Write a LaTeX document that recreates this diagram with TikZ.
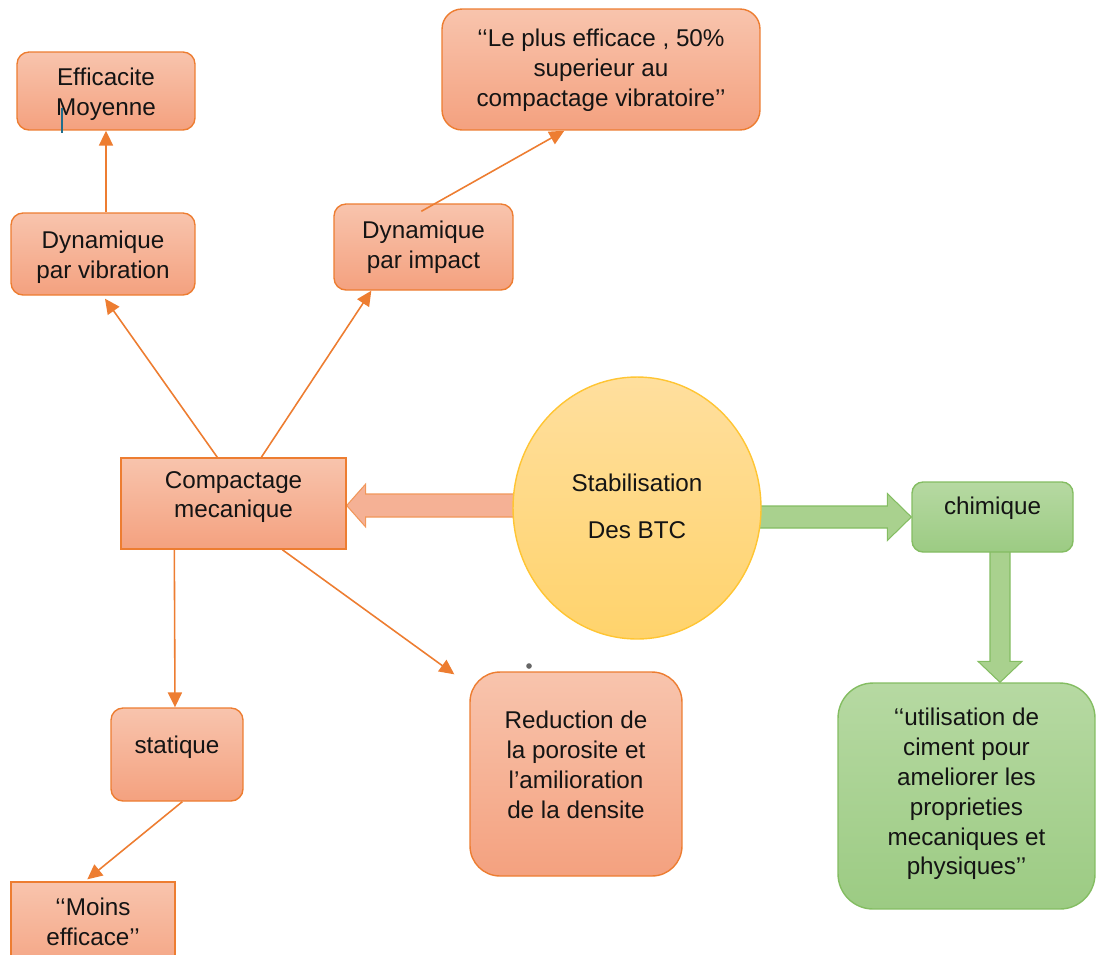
\documentclass[tikz,border=0pt]{standalone}
\usepackage{fontspec}
\setmainfont{Liberation Sans}
\usetikzlibrary{arrows.meta,calc,shapes.geometric,backgrounds}
\definecolor{obord}{HTML}{ED7D31}
\definecolor{otop}{HTML}{F8C4AD}
\definecolor{obot}{HTML}{F4A17F}
\definecolor{oblk}{HTML}{F5B195}
\definecolor{gbord}{HTML}{84BD62}
\definecolor{gtop}{HTML}{B6D9A2}
\definecolor{gbot}{HTML}{9CCB83}
\definecolor{gblk}{HTML}{A9D18E}
\definecolor{ytop}{HTML}{FFDF9E}
\definecolor{ybot}{HTML}{FFD36C}
\definecolor{ybord}{HTML}{FFC533}
\definecolor{txt}{HTML}{141414}
\definecolor{cursor}{HTML}{1F6E8C}
\begin{document}
\begin{tikzpicture}[x=0.02cm,y=-0.02cm,
 obox/.style={draw=obord, line width=0.8pt, top color=otop, bottom color=obot, inner sep=0pt},
 gbox/.style={draw=gbord, line width=0.8pt, top color=gtop, bottom color=gbot, inner sep=0pt},
 lbl/.style={font=\fontsize{13.8}{17}\selectfont, text=txt, align=center, inner sep=0pt},
 conn/.style={draw=obord, line width=0.9pt, -{Triangle[length=8.5pt,width=8pt]}},
 oblock/.style={draw=obord!80, line width=0.6pt, fill=oblk},
 gblock/.style={draw=gbord, line width=0.6pt, fill=gblk}]

\useasboundingbox (0,0) rectangle (1097,954);

% boxes
\node[obox, rounded corners=0.24cm, minimum width=3.56cm, minimum height=1.56cm] (eff) at (106,91) {};
\node[lbl] (efft) at (106,94) {Efficacite\\Moyenne};

\node[obox, rounded corners=0.24cm, minimum width=3.68cm, minimum height=1.64cm] (vib) at (103,254) {};
\node[lbl] (vibt) at (103,257) {Dynamique\\par vibration};

\node[obox, rounded corners=0.24cm, minimum width=3.58cm, minimum height=1.72cm] (imp) at (423.5,247) {};
\node[lbl] (impt) at (423.5,247) {Dynamique\\par impact};

\node[obox, rounded corners=0.4cm, minimum width=6.36cm, minimum height=2.42cm] (plus) at (601,69.5) {};
\node[lbl] (plust) at (601,70) {‘‘Le plus efficace , 50\%\\superieur au\\compactage vibratoire’’};

\node[obox, minimum width=4.5cm, minimum height=1.82cm] (comp) at (233.5,503.5) {};
\node[lbl] (compt) at (233.5,497) {Compactage\\mecanique};

\node[ellipse, draw=ybord, line width=0.8pt, top color=ytop, bottom color=ybot, minimum width=4.96cm, minimum height=5.24cm, inner sep=0pt] (circ) at (637,508) {};
\node[lbl] (circt) at (637,506) {Stabilisation\\[9.6pt]Des BTC};

\node[gbox, rounded corners=0.22cm, minimum width=3.22cm, minimum height=1.4cm] (chim) at (992.5,517) {};
\node[lbl] (chimt) at (992.5,508) {chimique};

\node[gbox, rounded corners=0.7cm, minimum width=5.14cm, minimum height=4.52cm] (util) at (966.5,796) {};
\node[lbl] (utilt) at (966.5,794) {‘‘utilisation de\\ciment pour\\ameliorer les\\proprieties\\mecaniques et\\physiques’’};

\node[obox, rounded corners=0.24cm, minimum width=2.64cm, minimum height=1.86cm] (stat) at (177,754.5) {};
\node[lbl] (statt) at (177,747) {statique};

\node[obox, rounded corners=0.6cm, minimum width=4.24cm, minimum height=4.08cm] (red) at (576,774) {};
\node[lbl] (redt) at (576,765) {Reduction de\\la porosite et\\l’amilioration\\de la densite};

\node[obox, minimum width=3.28cm, minimum height=1.96cm] (moins) at (93,931) {};
\node[lbl] (moinst) at (93,922) {‘‘Moins\\efficace’’};

% block arrows (behind)
\begin{scope}[on background layer]
\path (comp.east) ++(0,2) coordinate (ot);
\path (circ.west) ++(25,0) coordinate (os);
\draw[oblock] (ot) -- ++(19,-21.5) -- ++(0,10) -- ($(ot -| os)+(0,-11.5)$) -- ($(ot -| os)+(0,11.5)$) -- ($(ot)+(19,11.5)$) -- ++(0,10) -- cycle;

\path (chim.west) coordinate (gt);
\path (circ.east) ++(-25,0) coordinate (gs);
\draw[gblock] (gt) -- ++(-24,-23.5) -- ++(0,12.5) -- ($(gt -| gs)+(0,-11)$) -- ($(gt -| gs)+(0,11)$) -- ($(gt)+(-24,11)$) -- ++(0,12.5) -- cycle;

\path (util.north) ++(33.5,0) coordinate (gvt);
\draw[gblock] (gvt) -- ++(-22,-21) -- ++(12,0) -- ($(gvt |- chim.south)+(-10,-5)$) -- ($(gvt |- chim.south)+(10,-5)$) -- ($(gvt)+(10,-21)$) -- ++(12,0) -- cycle;
\end{scope}

% connectors
\draw[conn] (eff.south |- vib.north) -- (eff.south);
\draw[conn] ($(comp.north west)+(97,0)$) -- ($(vib.south)+(2,3)$);
\draw[conn] ($(comp.north west)+(141,0)$) -- ($(imp.south west)+(38,0)$);
\draw[conn] ($(imp.north west)+(88,8)$) -- ($(plus.south west)+(123,0)$);
\draw[conn] ($(comp.south west)+(54,0)$) -- ($(stat.north)+(-2,0)$);
\draw[conn] ($(comp.south west)+(162,0)$) -- ($(red.north west)+(-15,3)$);
\draw[conn] ($(stat.south west)+(72,0)$) -- ($(moins.north west)+(77,-2)$);

% small marks
\draw[cursor, line width=0.8pt] (62,108) -- (62,133);
\fill[black!60] (529,666) circle (1.6pt);
\end{tikzpicture}
\end{document}
